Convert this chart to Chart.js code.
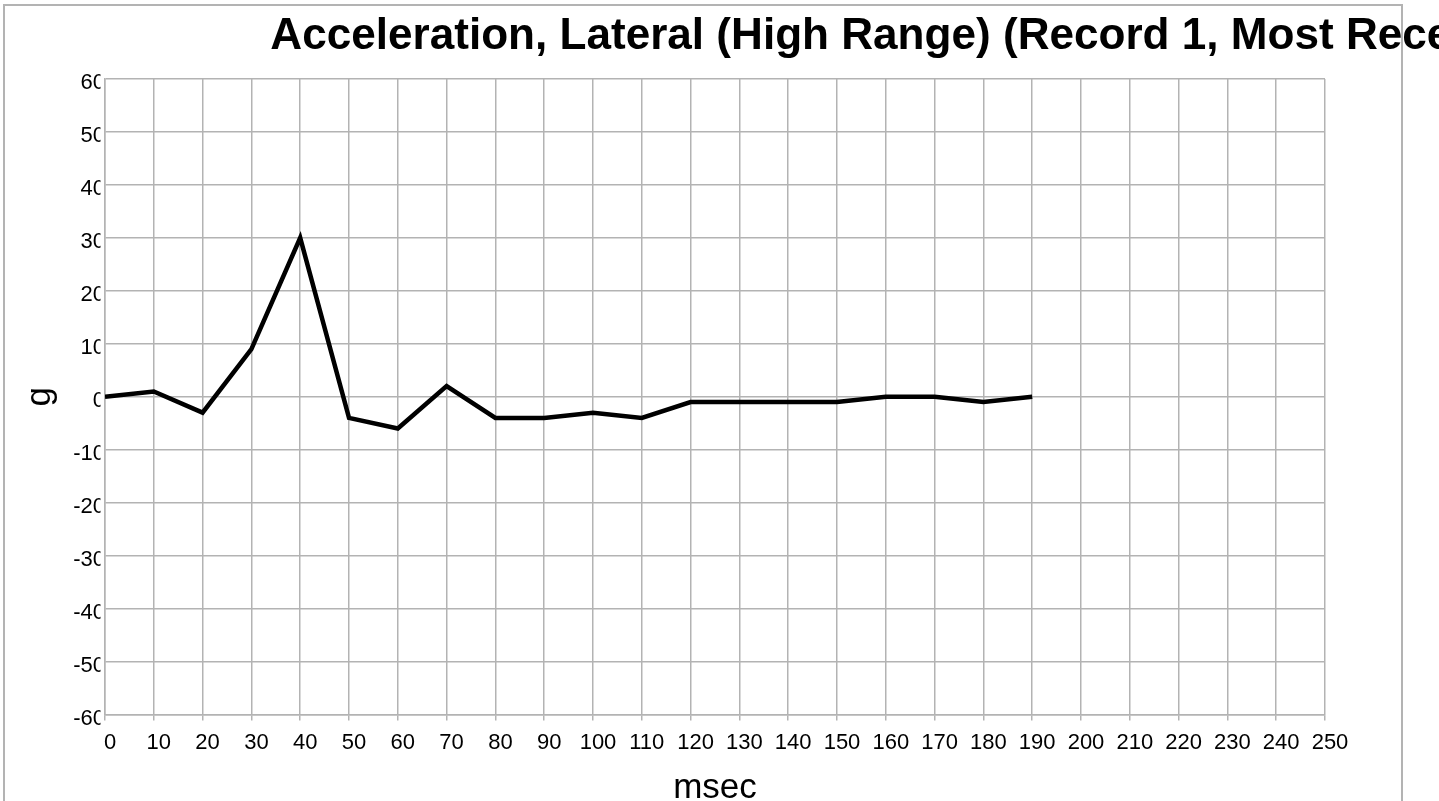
<!DOCTYPE html>
<html>
<head>
<meta charset="utf-8">
<script src="https://cdn.jsdelivr.net/npm/chart.js@4.4.1/dist/chart.umd.min.js"></script>
<style>
  html, body { margin: 0; padding: 0; background: #fff; overflow: hidden; width: 1439px; height: 801px; }
  #frame { position: absolute; left: 3px; top: 4px; width: 1400px; height: 900px; border: 2px solid #b3b3b3; box-sizing: border-box; }
  #wrap { position: absolute; left: 0; top: 0; width: 1778px; height: 822px; }
</style>
</head>
<body>
<div id="frame"></div>
<div id="wrap"><canvas id="c"></canvas></div>
<script>
// ---- data ----
const chartTitle = 'Acceleration, Lateral (High Range) (Record 1, Most Recent)';
const xAxisTitle = 'msec';
const yAxisTitle = 'g';
const msec    = [0, 10, 20, 30, 40, 50, 60, 70, 80, 90, 100, 110, 120, 130, 140, 150, 160, 170, 180, 190];
const gValues = [0, 1, -3, 9, 30, -4, -6, 2, -4, -4, -3, -4, -1, -1, -1, -1, 0, 0, -1, 0];
const xTickValues = [0, 10, 20, 30, 40, 50, 60, 70, 80, 90, 100, 110, 120, 130, 140, 150, 160, 170, 180, 190, 200, 210, 220, 230, 240, 250];
const yTickValues = [-60, -50, -40, -30, -20, -10, 0, 10, 20, 30, 40, 50, 60];

const FONT = "'Liberation Sans', Arial, sans-serif";
const GRID = '#b3b3b3';

// clip the y tick labels just left of the axis, as in the reference
const clipYLabels = {
  id: 'clipYLabels',
  afterLayout(chart) {
    const s = chart.scales.y;
    if (s && !s._clipWrapped) {
      const orig = s.drawLabels;
      s.drawLabels = function (area) {
        const ctx = this.ctx;
        ctx.save();
        ctx.beginPath();
        ctx.rect(0, 0, this.right - 4.5, this.chart.height);
        ctx.clip();
        orig.call(this, area);
        ctx.restore();
      };
      s._clipWrapped = true;
    }
  }
};

new Chart(document.getElementById('c'), {
  type: 'line',
  data: {
    datasets: [{
      data: msec.map((x, i) => ({ x: x, y: gValues[i] })),
      borderColor: '#000000',
      backgroundColor: '#000000',
      borderWidth: 4.5,
      pointRadius: 0,
      tension: 0,
      fill: false,
      borderJoinStyle: 'miter'
    }]
  },
  plugins: [clipYLabels],
  options: {
    responsive: true,
    maintainAspectRatio: false,
    animation: false,
    layout: { padding: 0 },
    plugins: {
      legend: { display: false },
      tooltip: { enabled: false },
      title: {
        display: true,
        text: chartTitle,
        color: '#000',
        font: { family: FONT, size: 44.1, weight: 'bold', lineHeight: 1.2 },
        padding: { top: 10, bottom: 16 }
      }
    },
    scales: {
      x: {
        type: 'linear',
        position: 'bottom',
        min: 0,
        max: 250,
        afterBuildTicks: s => { s.ticks = xTickValues.map(v => ({ value: v })); },
        grid: { color: GRID, lineWidth: 1.5, tickLength: 6, drawTicks: true, tickColor: GRID },
        border: { color: GRID, width: 1.5 },
        ticks: {
          color: '#000',
          font: { family: FONT, size: 22 },
          padding: 9,
          labelOffset: 5,
          maxRotation: 0,
          autoSkip: false
        },
        title: {
          display: true,
          text: xAxisTitle,
          color: '#000',
          font: { family: FONT, size: 35, lineHeight: 1.2 },
          padding: { top: 2, bottom: 13 }
        }
      },
      y: {
        type: 'linear',
        position: 'left',
        min: -60,
        max: 60,
        afterBuildTicks: s => { s.ticks = yTickValues.map(v => ({ value: v })); },
        afterFit: s => { s.width = 105; },
        grid: { color: GRID, lineWidth: 1.5, drawTicks: false },
        border: { color: GRID, width: 1.5 },
        ticks: {
          color: '#000',
          font: { family: FONT, size: 22 },
          padding: 0,
          labelOffset: 4,
          autoSkip: false
        },
        title: {
          display: true,
          text: yAxisTitle,
          color: '#000',
          font: { family: FONT, size: 35, lineHeight: 1.2 },
          padding: { top: 19, bottom: 0 }
        }
      },
      yPad: {
        type: 'linear',
        position: 'right',
        display: true,
        afterFit: s => { s.width = 453; },
        grid: { display: false },
        border: { display: false },
        ticks: { display: false },
        title: { display: false }
      }
    }
  }
});
</script>
</body>
</html>
